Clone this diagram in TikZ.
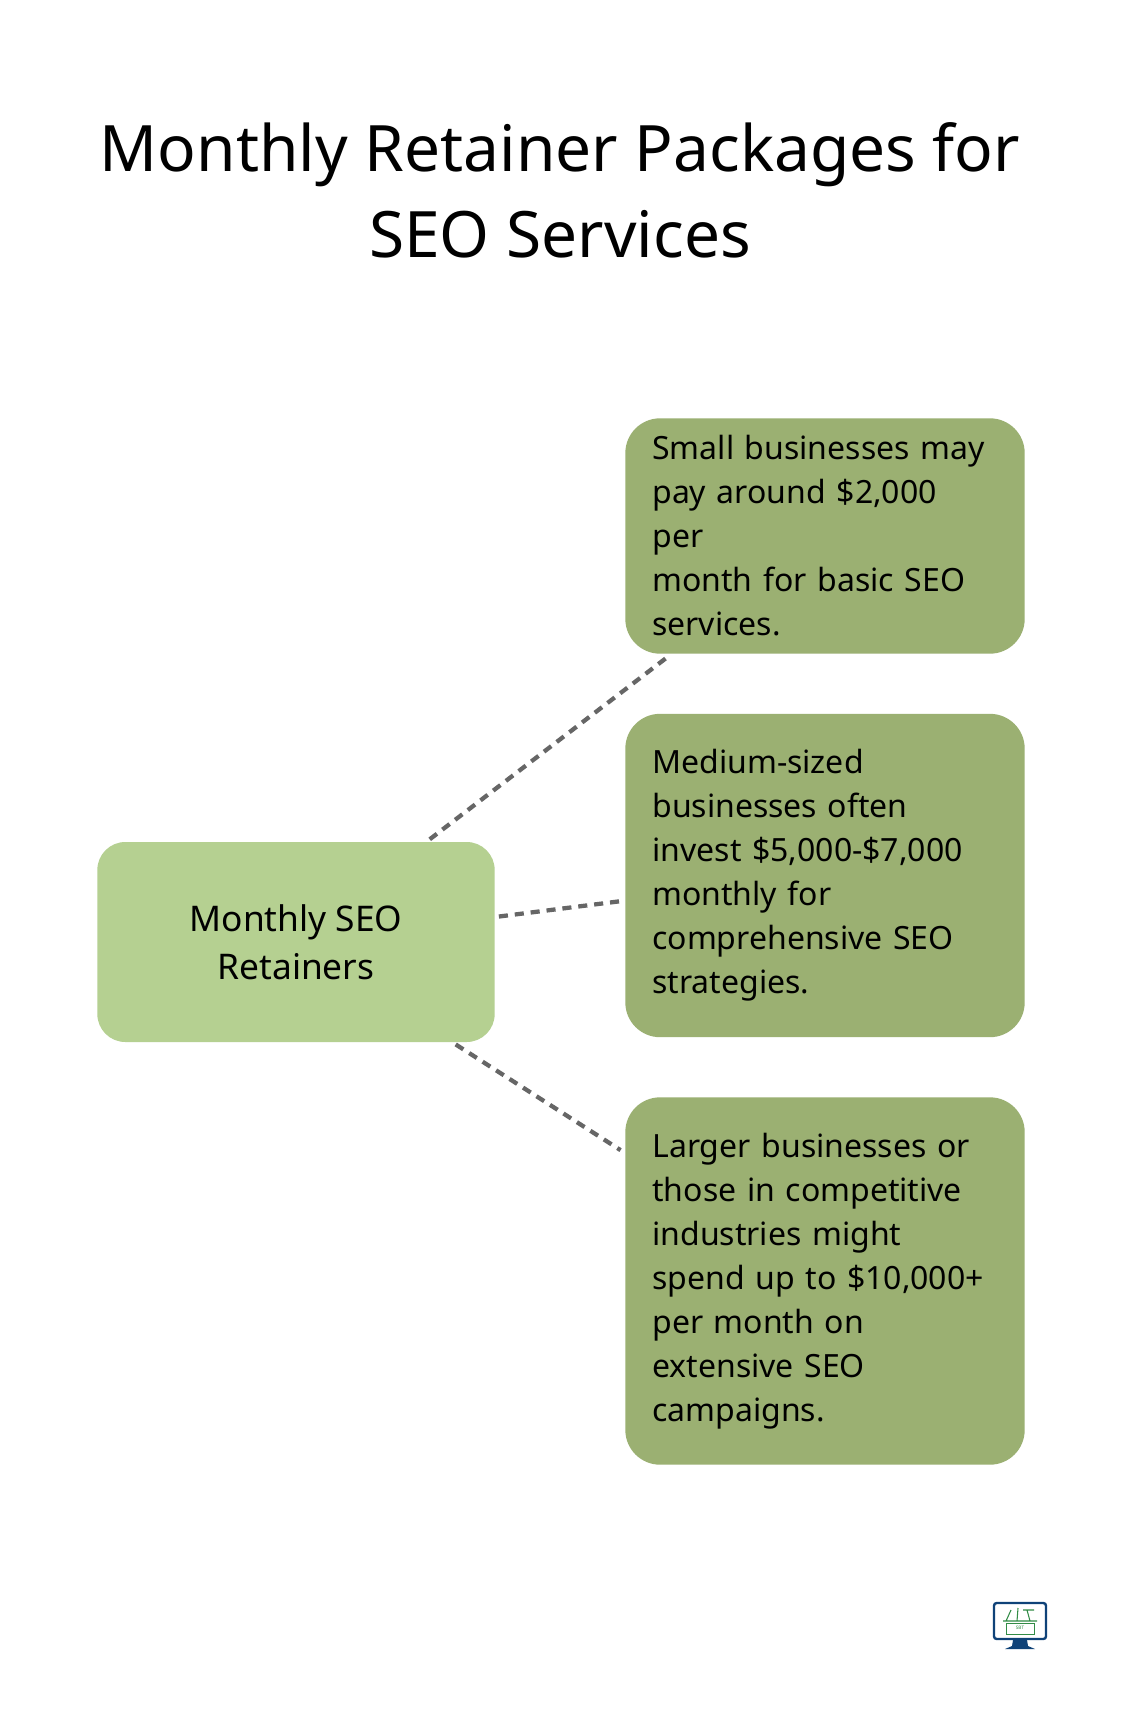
\documentclass[tikz,border=0pt]{standalone}
\usepackage{fontspec}
\setmainfont{Noto Sans}
\usetikzlibrary{backgrounds}
\definecolor{rootgreen}{RGB}{181,208,145}
\definecolor{leafgreen}{RGB}{155,176,114}
\definecolor{linkgrey}{RGB}{102,102,102}
\definecolor{logonavy}{RGB}{15,66,120}
\definecolor{logogreen}{RGB}{50,140,70}
\tikzset{
  rootbox/.style={fill=rootgreen,rounded corners=21pt,minimum width=298pt,minimum height=150pt,align=center,inner sep=0pt,font=\fontsize{26.5pt}{36pt}\selectfont\bfseries},
  leafbox/.style={fill=leafgreen,rounded corners=26pt,minimum width=299.5pt,align=left,text width=259pt,inner sep=0pt,font=\fontsize{24pt}{33pt}\selectfont},
  titletext/.style={align=center,inner sep=0pt,font=\fontsize{48pt}{64.5pt}\selectfont\bfseries},
  linkline/.style={draw=linkgrey,line width=3.2pt,dash pattern=on 6.8pt off 5.2pt,shorten >=4pt,shorten <=3pt},
}
% soft shadow behind a box
\newcommand{\softshadow}[3]{%
  \foreach \s in {-12,-9,...,21}
    \fill[black,opacity=#3,rounded corners=26pt]
      ([shift={(\s*1pt-3pt,-\s*1pt-#2)}]#1.north east) rectangle ([shift={(-\s*1pt+3pt,\s*1pt-#2)}]#1.south west);
}
\begin{document}
\begin{tikzpicture}[x=0.75pt,y=0.75pt,yscale=-1,xscale=1]
\useasboundingbox (0,0) rectangle (1120,1726);
\fill[white] (0,0) rectangle (1120,1726);

% Text Node
\node (title) [titletext] at (560,190) {Monthly Retainer Packages for\\SEO Services};

% Boxes
\node (root) [rootbox] at (296,942) {Monthly SEO\\Retainers};
\node (small) [leafbox,minimum height=176.5pt] at (825,536) {Small businesses may\\pay around \$2,000 per\\month for basic SEO\\services.};
\node (medium) [leafbox,minimum height=242.5pt] at (825,875.5) {Medium-sized\\businesses often\\invest \$5,000-\$7,000\\monthly for\\comprehensive SEO\\strategies.};
\node (large) [leafbox,minimum height=275.5pt] at (825,1281) {Larger businesses or\\those in competitive\\industries might\\spend up to \$10,000+\\per month on\\extensive SEO\\campaigns.};

\begin{scope}[on background layer]
\softshadow{root}{6pt}{0.012}
\softshadow{small}{6pt}{0.02}
\softshadow{medium}{6pt}{0.02}
\softshadow{large}{6pt}{0.02}
\end{scope}

% Connectors
\draw [linkline] (root) -- (small);
\draw [linkline] (root) -- (medium);
\draw [linkline] (root) -- (large);

% Logo
\draw [draw=logonavy,line width=1.8pt,fill=white,rounded corners=2pt] (994,1603) rectangle (1046,1639);
\fill [logonavy] (1013,1640) -- (1027,1640) -- (1028,1646) -- (1035,1649) -- (1005,1649) -- (1012,1646) -- cycle;
\draw [logogreen,line width=0.6pt] (1006,1623) rectangle (1034,1634);
\draw [logogreen,line width=0.8pt] (1003,1621) -- (1037,1621) (1006,1621) -- (1011,1610) (1017,1621) -- (1018,1608) (1030,1621) -- (1027,1610) (1023,1610) -- (1034,1610);
\node (logotext) [logogreen,inner sep=0pt,font=\fontsize{3.5pt}{4pt}\selectfont\bfseries] at (1020,1628) {SBT};
\end{tikzpicture}
\end{document}
